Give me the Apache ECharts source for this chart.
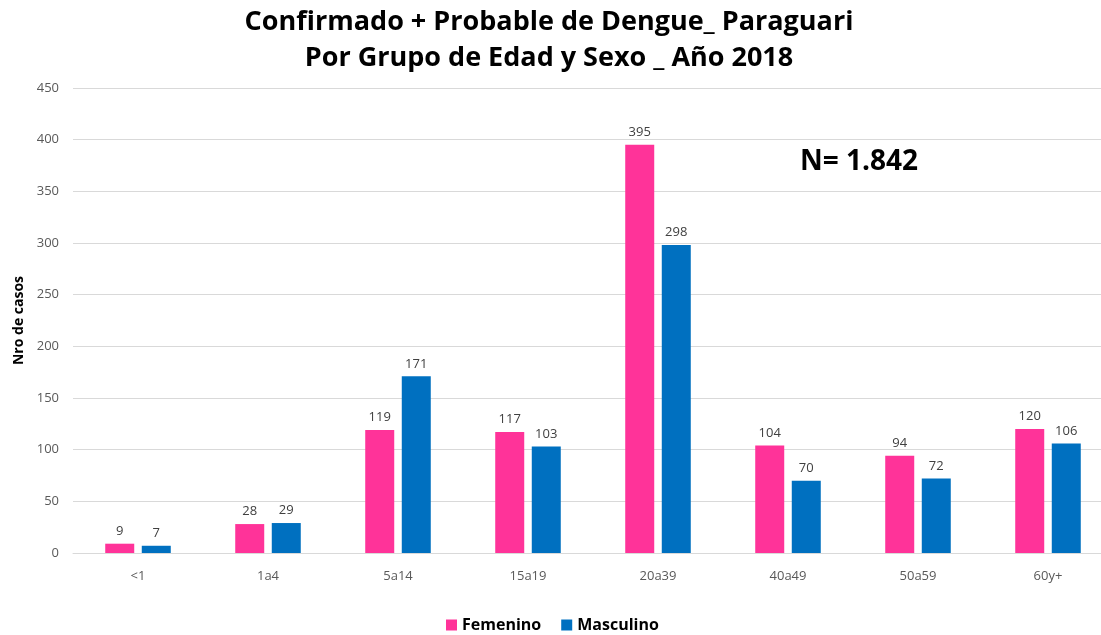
<!DOCTYPE html>
<html>
<head>
<meta charset="utf-8">
<script src="https://cdn.jsdelivr.net/npm/echarts@6/dist/echarts.min.js"></script>
<style>html,body{margin:0;padding:0;background:#fff;overflow:hidden;}#c{width:1113px;height:635px;}</style>
</head>
<body>
<div id="c"></div>
<script>
const categories = ['<1', '1a4', '5a14', '15a19', '20a39', '40a49', '50a59', '60y+'];
const femenino = [9, 28, 119, 117, 395, 104, 94, 120];
const masculino = [7, 29, 171, 103, 298, 70, 72, 106];
const yTicks = { min: 0, max: 450, interval: 50 };
const titleLines = ['Confirmado + Probable de Dengue_ Paraguari', 'Por Grupo de Edad y Sexo _ Año 2018'];
const totalLabel = 'N= 1.842';

const font = '"Open Sans", "Noto Sans", sans-serif';
const chart = echarts.init(document.getElementById('c'));
const labelStyle = { show: true, position: 'top', color: '#404040', fontSize: 13, fontFamily: font, distance: 6 };
chart.setOption({
  animation: false,
  backgroundColor: '#fff',
  legend: {
    top: 612, left: 441,
    itemWidth: 11, itemHeight: 11, itemGap: 20, icon: 'rect',
    textStyle: { fontSize: 16, fontWeight: 'bold', color: '#000', fontFamily: font },
    data: ['Femenino', 'Masculino']
  },
  grid: { left: 73, right: 0, top: 88, bottom: 82 },
  xAxis: {
    type: 'category', data: categories,
    axisLine: { lineStyle: { color: '#d9d9d9' } },
    axisTick: { show: false },
    axisLabel: { color: '#595959', fontSize: 13, fontFamily: font, margin: 17 }
  },
  yAxis: {
    type: 'value', min: yTicks.min, max: yTicks.max, interval: yTicks.interval,
    name: 'Nro de casos', nameLocation: 'middle', nameGap: 46, nameRotate: 90,
    nameTextStyle: { fontSize: 14, fontWeight: 'bold', color: '#000', fontFamily: font },
    axisLine: { show: false }, axisTick: { show: false },
    axisLabel: { color: '#595959', fontSize: 13, fontFamily: font, margin: 14 },
    splitLine: { lineStyle: { color: '#d9d9d9' } }
  },
  series: [
    { name: 'Femenino', type: 'bar', data: femenino, barWidth: 29, barGap: '26%',
      itemStyle: { color: '#FF3399' }, label: labelStyle },
    { name: 'Masculino', type: 'bar', data: masculino, barWidth: 29,
      itemStyle: { color: '#0070C0' }, label: labelStyle }
  ],
  graphic: [
    { type: 'text', x: 549, y: 22,
      style: { text: titleLines[0], fontSize: 27, fontWeight: 'bold', fill: '#000', fontFamily: font, align: 'center', verticalAlign: 'middle' } },
    { type: 'text', x: 549, y: 58,
      style: { text: titleLines[1], fontSize: 27, fontWeight: 'bold', fill: '#000', fontFamily: font, align: 'center', verticalAlign: 'middle' } },
    { type: 'text', x: 800, y: 162,
      style: { text: totalLabel, fontSize: 28, fontWeight: 'bold', fill: '#000', fontFamily: font, verticalAlign: 'middle' } }
  ]
});
</script>
</body>
</html>
